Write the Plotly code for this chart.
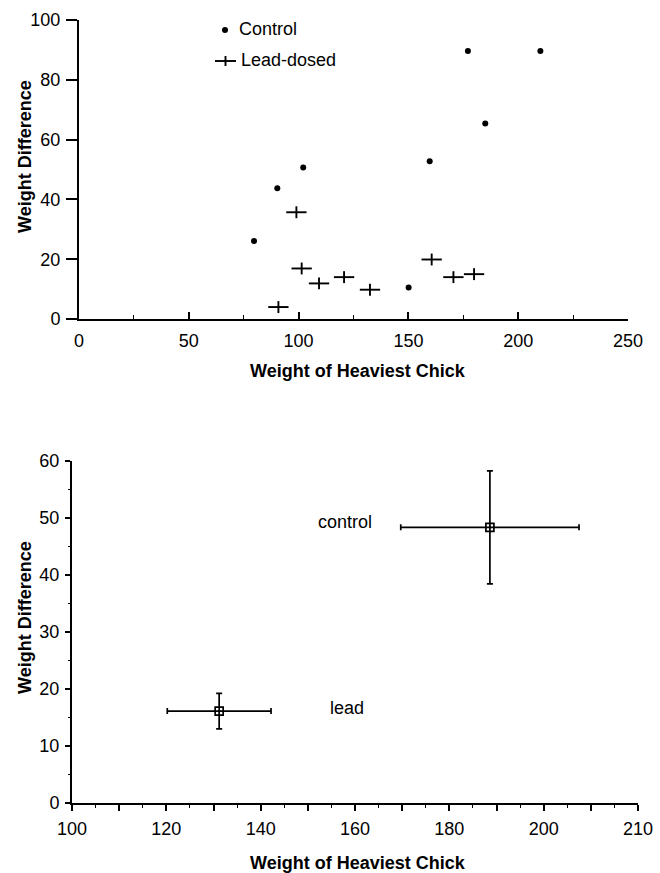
import plotly.graph_objects as go

W, H = 660, 873
FONT = "Liberation Sans, Arial, Helvetica, sans-serif"

# ---------------- data ----------------
# Top panel: individual nests
control_x = [79.7, 90.3, 102.1, 150.1, 159.7, 177.1, 185.0, 210.1]
control_y = [26.1, 43.7, 50.7, 10.5, 52.8, 89.6, 65.4, 89.6]
lead_x = [90.8, 99.0, 101.4, 109.3, 120.7, 132.5, 160.6, 170.5, 179.9]
lead_y = [4.0, 35.7, 16.9, 11.9, 14.0, 9.8, 19.9, 14.0, 15.0]

# Bottom panel: group means with error bars
groups = ["control", "lead"]
group_mean_x = [188.6, 131.2]
group_mean_y = [48.3, 16.1]
group_err_x = [18.9, 11.0]
group_err_y = [9.9, 3.1]

# tick labels
top_x_ticks = [0, 50, 100, 150, 200, 250]
top_y_ticks = [0, 20, 40, 60, 80, 100]
bot_x_ticks = [100, 110, 120, 130, 140, 150, 160, 170, 180, 190, 200, 210, 220]
bot_x_text = ["100", "", "120", "", "140", "", "160", "", "180", "", "200", "", "210"]
bot_y_ticks = [0, 10, 20, 30, 40, 50, 60]


def px(x):
    return x / W


def py(y):
    return 1 - y / H


fig = go.Figure()

# top panel markers
fig.add_trace(go.Scatter(
    x=control_x, y=control_y, mode="markers", name="Control",
    marker=dict(symbol="circle", size=6, color="black"),
    xaxis="x", yaxis="y", showlegend=False, hoverinfo="x+y"))
fig.add_trace(go.Scatter(
    x=lead_x, y=lead_y, mode="markers", name="Lead-dosed",
    marker=dict(symbol="line-ew", size=14.5, color="black",
                line=dict(width=1.9, color="black")),
    xaxis="x", yaxis="y", showlegend=False, hoverinfo="x+y"))
fig.add_trace(go.Scatter(
    x=lead_x, y=lead_y, mode="markers", name="Lead-dosed",
    marker=dict(symbol="line-ns", size=8.5, color="black",
                line=dict(width=1.9, color="black")),
    xaxis="x", yaxis="y", showlegend=False, hoverinfo="skip"))

# bottom panel means with error bars
fig.add_trace(go.Scatter(
    x=group_mean_x, y=group_mean_y, mode="markers", text=groups,
    marker=dict(symbol="square-open-dot", size=8, color="black",
                line=dict(width=1.7, color="black")),
    error_x=dict(type="data", array=group_err_x, symmetric=True,
                 thickness=1.7, width=3, color="black"),
    error_y=dict(type="data", array=group_err_y, symmetric=True,
                 thickness=1.7, width=3, color="black"),
    xaxis="x2", yaxis="y2", showlegend=False))

tickfont = dict(family=FONT, size=18, color="black")
common = dict(showgrid=False, zeroline=False, showline=True, linewidth=2,
              linecolor="black", tickcolor="black", tickfont=tickfont,
              fixedrange=True, automargin=False)

fig.update_layout(
    template="none",
    width=W, height=H,
    margin=dict(l=0, r=0, t=0, b=0, autoexpand=False),
    paper_bgcolor="white", plot_bgcolor="white",
    showlegend=False,
    xaxis=dict(domain=[px(79), px(628)], range=[0, 250], anchor="y",
               tickmode="array", tickvals=top_x_ticks,
               ticks="inside", ticklen=7, tickwidth=1.6,
               ticklabelstandoff=4,
               minor=dict(tickvals=[25, 75, 125, 175, 225], ticks="inside",
                          ticklen=4, tickwidth=1.3, tickcolor="black"),
               **common),
    yaxis=dict(domain=[py(319), py(20)], range=[0, 100], anchor="x",
               tickmode="array", tickvals=top_y_ticks,
               ticks="outside", ticklen=11, tickwidth=1.6,
               ticklabelstandoff=2,
               **common),
    xaxis2=dict(domain=[px(72), px(638)], range=[100, 220], anchor="y2",
                tickmode="array", tickvals=bot_x_ticks, ticktext=bot_x_text,
                ticks="outside", ticklen=6, tickwidth=1.6,
                ticklabelstandoff=2,
                minor=dict(dtick=5, tick0=100, ticks="outside", ticklen=3,
                           tickwidth=1.2, tickcolor="black"),
                **common),
    yaxis2=dict(domain=[py(803), py(460.5)], range=[0, 60], anchor="x2",
                tickmode="array", tickvals=bot_y_ticks,
                ticks="outside", ticklen=5, tickwidth=1.6,
                ticklabelstandoff=2,
                minor=dict(dtick=5, tick0=0, ticks="outside", ticklen=2,
                           tickwidth=1.2, tickcolor="black"),
                **common),
)

title_font = dict(family=FONT, size=18, color="black")
text_font = dict(family=FONT, size=18, color="black")
ann = []
# axis titles
ann.append(dict(text="<b>Weight of Heaviest Chick</b>", xref="paper", yref="paper",
                x=px(358), y=py(371), xanchor="center", yanchor="middle",
                showarrow=False, font=title_font))
ann.append(dict(text="<b>Weight Difference</b>", xref="paper", yref="paper",
                x=px(25), y=py(157), xanchor="center", yanchor="middle",
                textangle=-90, showarrow=False, font=title_font))
ann.append(dict(text="<b>Weight of Heaviest Chick</b>", xref="paper", yref="paper",
                x=px(358), y=py(863), xanchor="center", yanchor="middle",
                showarrow=False, font=title_font))
ann.append(dict(text="<b>Weight Difference</b>", xref="paper", yref="paper",
                x=px(25), y=py(618), xanchor="center", yanchor="middle",
                textangle=-90, showarrow=False, font=title_font))
# legend text (top panel)
ann.append(dict(text="Control", xref="paper", yref="paper",
                x=px(237), y=py(29), xanchor="left", yanchor="middle",
                showarrow=False, font=text_font))
ann.append(dict(text="Lead-dosed", xref="paper", yref="paper",
                x=px(239), y=py(60), xanchor="left", yanchor="middle",
                showarrow=False, font=text_font))
# group labels (bottom panel)
ann.append(dict(text=groups[0], xref="x2", yref="y2", x=157.9, y=49.2,
                xanchor="center", yanchor="middle", showarrow=False, font=text_font))
ann.append(dict(text=groups[1], xref="x2", yref="y2", x=158.3, y=16.6,
                xanchor="center", yanchor="middle", showarrow=False, font=text_font))
fig.update_layout(annotations=ann)

# legend symbols (decorations in paper space)
shapes = [
    dict(type="circle", xref="paper", yref="paper",
         x0=px(222), x1=px(228), y0=py(33), y1=py(27),
         fillcolor="black", line=dict(width=0)),
    dict(type="line", xref="paper", yref="paper",
         x0=px(215), x1=px(236), y0=py(61), y1=py(61),
         line=dict(width=1.9, color="black")),
    dict(type="line", xref="paper", yref="paper",
         x0=px(225.5), x1=px(225.5), y0=py(56), y1=py(66),
         line=dict(width=1.9, color="black")),
]
fig.update_layout(shapes=shapes)

# remove the browser's default page margin so the figure fills the window exactly
fig.write_html(
    "out.html",
    config={"displayModeBar": False},
    post_script="document.body.style.margin='0';document.body.style.padding='0';"
                "document.documentElement.style.margin='0';",
)
